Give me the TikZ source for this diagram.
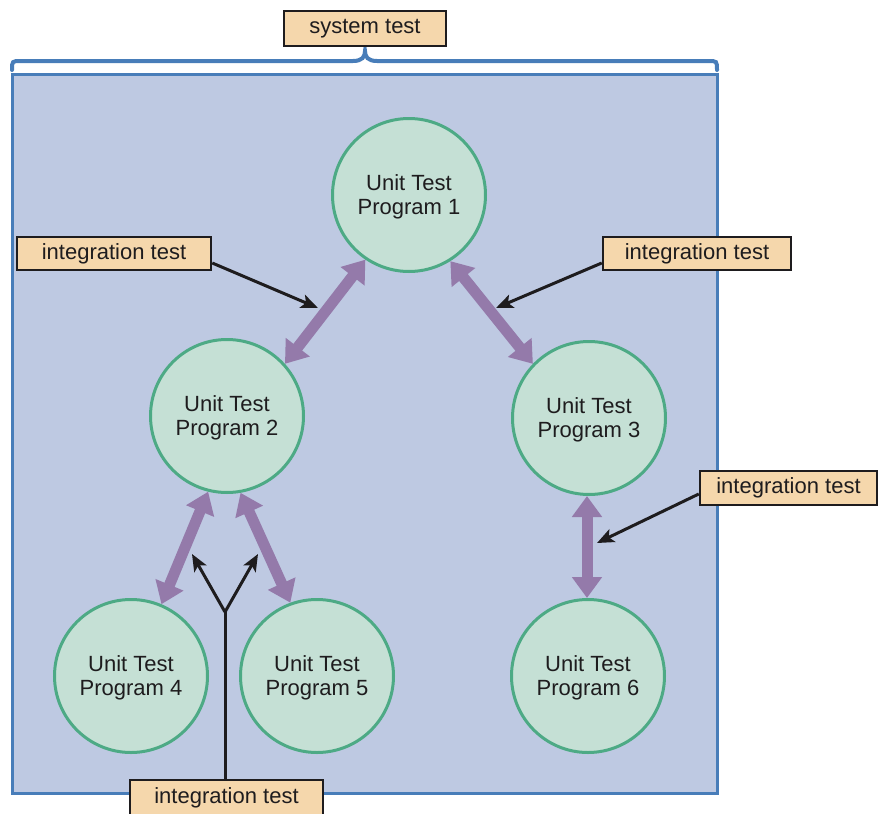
\documentclass[tikz,border=0pt]{standalone}
\usepackage{fontspec}
\setmainfont{Liberation Sans}
\usetikzlibrary{arrows.meta,calc}
\definecolor{panelfill}{RGB}{190,201,226}
\definecolor{panelline}{RGB}{72,125,185}
\definecolor{unitfill}{RGB}{197,224,213}
\definecolor{unitring}{RGB}{77,170,133}
\definecolor{linkpurple}{RGB}{148,122,170}
\definecolor{tagfill}{RGB}{245,215,172}
\definecolor{ink}{RGB}{30,28,30}
\begin{document}
\begin{tikzpicture}[x=1pt,y=-1pt,
  unit/.style={circle,draw=unitring,line width=3pt,fill=unitfill,minimum size=153pt,
    inner sep=0pt,align=center,text=ink,text depth=0pt,font=\fontsize{22}{24}\selectfont},
  tag/.style={draw=ink,line width=2.5pt,fill=tagfill,inner sep=0pt,minimum height=33pt,
    text=ink,font=\fontsize{22}{24}\selectfont},
  link/.style={draw=linkpurple,line width=11pt,
    {Triangle[length=21pt,width=29pt]}-{Triangle[length=21pt,width=29pt]}},
  pointer/.style={draw=ink,line width=3pt,-{Stealth[length=17pt,width=14pt,inset=4pt]}},
  stem/.style={draw=ink,line width=3pt}
]
\useasboundingbox (0,0) rectangle (879,814);

% system panel and its brace
\draw[panelline,line width=3pt,fill=panelfill] (12,74) rectangle (717,793);
\draw[panelline,line width=4pt,line cap=round]
  (12,70) .. controls (12,61) .. (21,61) -- (353,61)
  .. controls (362,61) and (365,57) .. (365,51)
  .. controls (365,57) and (368,61) .. (377,61) -- (708,61)
  .. controls (717,61) .. (717,70);
\node[tag,minimum width=162pt,minimum height=35pt] (sys) at (365,28.5) {system test};

% unit test programs
\node[unit] (c1) at (409,195) {Unit Test\\Program 1};
\node[unit] (c2) at (227,416) {Unit Test\\Program 2};
\node[unit] (c3) at (589,418) {Unit Test\\Program 3};
\node[unit] (c4) at (131,676) {Unit Test\\Program 4};
\node[unit] (c5) at (317,676) {Unit Test\\Program 5};
\node[unit] (c6) at (588,676) {Unit Test\\Program 6};

% integration links
\draw[link] (c1.236) -- (c2.42);
\draw[link] (c1.302) -- (c3.136);
\draw[link] (c2.256) -- (c4.67);
\draw[link] (c2.280) -- (c5.110);
\draw[link] (c3.south -| 587,0) -- (c6.north -| 587,0);

% integration test labels
\node[tag,minimum width=194pt] (lab1) at (114,253.5) {integration test};
\node[tag,minimum width=188pt] (lab2) at (697,253.5) {integration test};
\node[tag,minimum width=177pt,minimum height=34pt] (lab3) at (788.5,488) {integration test};
\node[tag,minimum width=193pt,minimum height=36pt] (lab4) at (226.5,798) {integration test};

% label pointers
\coordinate (t12) at (318,308);
\coordinate (t13) at (496,308);
\coordinate (t36) at (597,543);
\coordinate (fork) at (225,612);
\coordinate (t24) at (192,554);
\coordinate (t25) at (258,554);
\draw[pointer] ([yshift=-9.5pt]lab1.east) -- (t12);
\draw[pointer] ([yshift=-9.5pt]lab2.west) -- (t13);
\draw[pointer] ([yshift=-6pt]lab3.west) -- (t36);
\draw[stem] (lab4.north -| fork) -- (fork);
\draw[pointer] (fork) -- (t24);
\draw[pointer] (fork) -- (t25);
\end{tikzpicture}
\end{document}
